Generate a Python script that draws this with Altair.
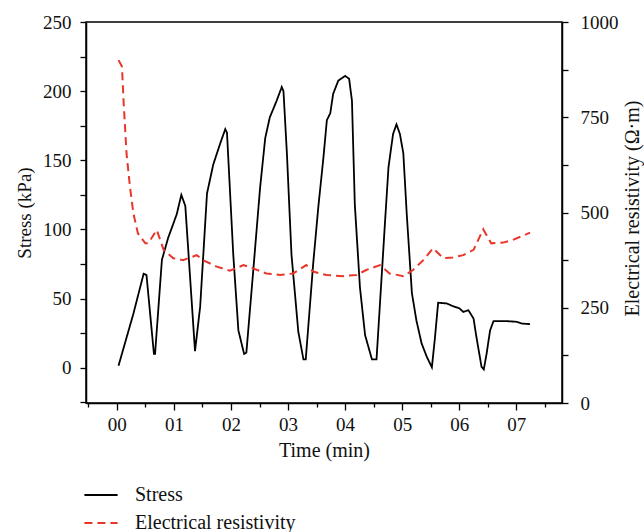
import altair as alt
import pandas as pd

stress_t = [0.03, 0.29, 0.47, 0.52, 0.65, 0.67, 0.79, 0.90, 1.05, 1.13, 1.20, 1.37, 1.46, 1.58, 1.69,
            1.81, 1.90, 1.93, 2.04, 2.13, 2.23, 2.27, 2.39, 2.51, 2.60, 2.68, 2.80, 2.89, 2.92, 2.98,
            3.06, 3.18, 3.27, 3.31, 3.44, 3.53, 3.62, 3.68, 3.74, 3.79, 3.88, 4.00, 4.07, 4.12, 4.17,
            4.26, 4.35, 4.47, 4.55, 4.61, 4.70, 4.76, 4.84, 4.90, 4.96, 5.02, 5.08, 5.17, 5.25, 5.34,
            5.43, 5.52, 5.57, 5.63, 5.78, 5.89, 6.00, 6.07, 6.16, 6.25, 6.30, 6.39, 6.43, 6.48, 6.54,
            6.60, 6.83, 7.01, 7.09, 7.24]
stress_v = [1.5, 39, 68, 67, 10, 10, 78, 94, 111, 125, 117, 12, 44, 126, 147,
            162, 172.5, 170, 82, 27, 10, 11, 70, 130, 166, 181, 193, 203, 200, 155,
            82, 26, 6, 6, 75, 116, 152, 179, 184, 198, 207.6, 211, 209, 193, 118,
            58, 23.6, 6, 6, 46, 106, 145, 169, 176, 169, 155, 111, 54, 34, 17.6,
            8, 0.3, 20, 47, 46.5, 44.5, 43, 40.4, 41.6, 35.6, 22.4, 0.7, -1.2, 10.4, 27,
            33.7, 33.7, 33.2, 32, 31.5]

res_t = [0.03, 0.09, 0.12, 0.17, 0.23, 0.29, 0.37, 0.50, 0.55, 0.70, 0.82, 0.99, 1.16, 1.40, 1.51,
         1.75, 1.98, 2.22, 2.39, 2.62, 2.86, 3.09, 3.32, 3.44, 3.67, 3.96, 4.20, 4.37, 4.61, 4.78,
         5.02, 5.19, 5.37, 5.54, 5.72, 5.89, 6.07, 6.25, 6.42, 6.56, 6.77, 6.94, 7.24]
res_v = [900, 883, 787, 655, 568, 498, 445, 419, 419, 454, 402, 380, 375, 388, 375,
         358, 347, 362, 353, 340, 336, 340, 362, 345, 336, 333, 336, 349, 362, 340,
         333, 349, 375, 406, 380, 382, 388, 402, 456, 419, 421, 428, 447]

series = ["Stress", "Electrical resistivity"]
colors = ["#000000", "#E8362A"]
dashes = [[1, 0], [8, 5]]

df_s = pd.DataFrame({"t": stress_t, "v": stress_v, "series": series[0]})
df_r = pd.DataFrame({"t": res_t, "v": res_v, "series": series[1]})

FONT = "Liberation Serif"
x_ticks = [i * 0.5 for i in range(-1, 16)]

x_enc = alt.X(
    "t:Q",
    scale=alt.Scale(domain=[-0.54, 7.8], nice=False, zero=False),
    axis=alt.Axis(
        title="Time (min)", values=x_ticks,
        labelExpr="datum.value % 1 == 0 ? (datum.value < 10 ? '0' + datum.value : '' + datum.value) : ''",
        tickSize={"condition": {"test": "datum.value % 1 == 0", "value": 7}, "value": 4},
        grid=False, labelPadding=5, titlePadding=6,
    ),
)

color_enc = alt.Color("series:N", scale=alt.Scale(domain=series, range=colors),
                      legend=alt.Legend(title=None, orient="none", legendX=-3, legendY=455,
                                        symbolType="stroke", symbolSize=1100, symbolStrokeWidth=2,
                                        labelOffset=16, rowPadding=-6, labelFontSize=20,
                                        labelLimit=400,
                                        labelFont=FONT, labelColor="#111"))
dash_enc = alt.StrokeDash("series:N", scale=alt.Scale(domain=series, range=dashes), legend=None)

stress = alt.Chart(df_s).mark_line(strokeWidth=1.8).encode(
    x=x_enc,
    y=alt.Y("v:Q", scale=alt.Scale(domain=[-25.5, 250], nice=False, zero=False),
            axis=alt.Axis(title="Stress (kPa)", values=[-25, 0, 25, 50, 75, 100, 125, 150, 175, 200, 225, 250],
                          labelExpr="datum.value % 50 == 0 && datum.value >= 0 ? datum.label : ''",
                          grid=False, tickSize=6, labelPadding=9, titlePadding=8, orient="left",
                          titleFontSize=19)),
    color=color_enc,
    strokeDash=dash_enc,
)

res = alt.Chart(df_r).mark_line(strokeWidth=2).encode(
    x=x_enc,
    y=alt.Y("v:Q", scale=alt.Scale(domain=[0, 1000], nice=False),
            axis=alt.Axis(title="Electrical resistivity (Ω·m)", values=[0, 125, 250, 375, 500, 625, 750, 875, 1000],
                          labelExpr="datum.value % 250 == 0 ? '' + datum.value : ''",
                          grid=False, tickSize=6, labelPadding=12, titlePadding=24, orient="right",
                          titleAngle=270, titleY=186)),
    color=color_enc,
    strokeDash=dash_enc,
)

chart = alt.layer(stress, res).resolve_scale(y="independent").properties(
    width=476, height=381,
    background="white",
    autosize=alt.AutoSizeParams(type="none"),
    padding={"left": 86, "top": 22, "right": 82, "bottom": 129},
).configure_view(stroke="#000", strokeWidth=1.5).configure_axis(
    labelFont=FONT, titleFont=FONT, labelFontSize=19, titleFontSize=20,
    labelColor="#111", titleColor="#111", titleFontWeight="normal",
    domainColor="#000", tickColor="#000", domainWidth=1.5, tickWidth=1.3,
)

chart.save("out.html", embed_options={"renderer": "svg", "actions": False})
